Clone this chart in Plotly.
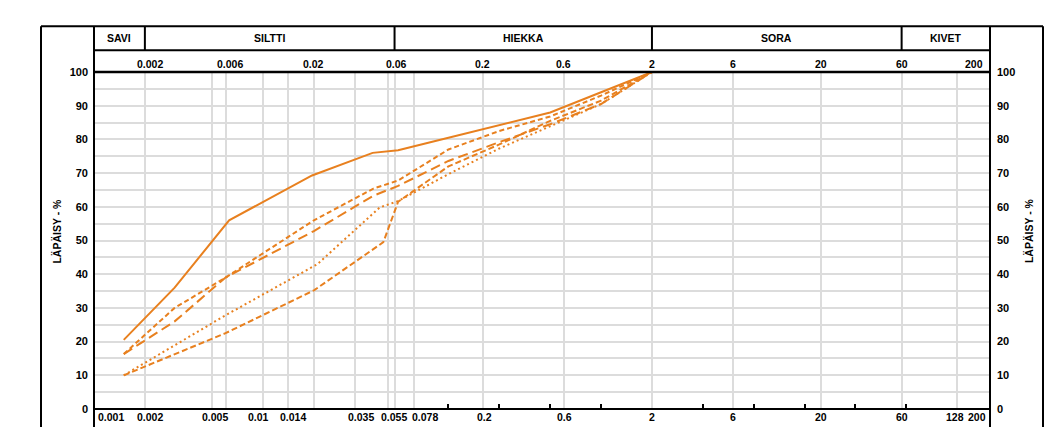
import math
import plotly.graph_objects as go

# ---------------- data ----------------
d_solid = [0.0015, 0.003, 0.0063, 0.0195, 0.0445, 0.063, 0.125, 0.25, 0.5, 1, 2]
p_solid = [20.5, 36, 56, 69.3, 76, 76.8, 80.5, 84.3, 88, 94, 100]

d_dash_a = [0.0015, 0.003, 0.006, 0.02, 0.045, 0.063, 0.125, 0.25, 0.5, 1, 2]
p_dash_a = [16.3, 30, 39, 56, 65.4, 67.8, 77, 82.5, 86.8, 93, 100]

d_longdash = [0.0015, 0.003, 0.006, 0.02, 0.045, 0.063, 0.125, 0.25, 0.5, 1, 2]
p_longdash = [16.3, 26, 39, 52.8, 63.3, 66.2, 73.6, 79.2, 84.5, 90.5, 100]

d_dot = [0.0015, 0.003, 0.006, 0.021, 0.049, 0.063, 0.125, 0.25, 0.5, 1, 2]
p_dot = [10, 19, 27.8, 43, 59.8, 61.7, 69.7, 77.3, 84, 90.5, 100]

d_dash_b = [0.0015, 0.003, 0.006, 0.02, 0.0515, 0.063, 0.125, 0.25, 0.5, 1, 2]
p_dash_b = [10, 16.2, 22.5, 35.2, 49.5, 61.5, 72, 78.5, 85.5, 91.5, 100]

grid_x = [0.002, 0.005, 0.006, 0.01, 0.014, 0.02, 0.035, 0.055, 0.06, 0.078,
          0.2, 0.6, 2, 6, 20, 60, 128]
minor_x = [0.125, 0.25, 0.5, 1, 4, 8, 16, 32, 64]
bottom_labels = ["0.001", "0.002", "0.005", "0.01", "0.014", "0.035", "0.055",
                 "0.078", "0.2", "0.6", "2", "6", "20", "60", "128", "200"]
bottom_vals = [0.001, 0.002, 0.005, 0.01, 0.014, 0.035, 0.055, 0.078, 0.2, 0.6,
               2, 6, 20, 60, 128, 200]
top_labels = ["0.002", "0.006", "0.02", "0.06", "0.2", "0.6", "2", "6", "20", "60", "200"]
top_vals = [0.002, 0.006, 0.02, 0.06, 0.2, 0.6, 2, 6, 20, 60, 200]
classes = ["SAVI", "SILTTI", "HIEKKA", "SORA", "KIVET"]
class_bounds = [0.001, 0.002, 0.06, 2, 60, 200]
y_vals = list(range(0, 101, 5))
y_text = [str(v) if v % 10 == 0 else "" for v in y_vals]

# ---------------- layout geometry (pixels) ----------------
W, H = 1053, 427
L, R, T, B = 94, 63, 72, 16
XMIN, XMAX = 0.001, 200
LMIN, LMAX = math.log10(XMIN), math.log10(XMAX)
PW, PH = W - L - R, H - T - B

# horizontal nudges (px) of the tick label texts, as in the reference drawing
bottom_shift = {"0.002": 5, "0.005": 3, "0.01": -5, "0.014": 5, "0.035": 6,
                "0.055": 6, "0.078": 11, "0.2": 2, "0.6": 1, "128": -2}
top_shift = {"0.002": 5, "0.006": 4, "0.06": 2}


def xp(v):
    return (math.log10(v) - LMIN) / (LMAX - LMIN)


def dx(px):
    return px / PW


def px_x(px):
    return (px - L) / PW


def px_y(py):
    return (H - B - py) / PH


ORANGE = "#E8801F"
FONT = "Liberation Sans, Arial, sans-serif"

fig = go.Figure()
series = [
    (d_solid, p_solid, "solid"),
    (d_dash_a, p_dash_a, "5px,3px"),
    (d_longdash, p_longdash, "10px,5px"),
    (d_dot, p_dot, "2px,3px"),
    (d_dash_b, p_dash_b, "6px,3px"),
]
for d, p, dash in series:
    fig.add_trace(go.Scatter(x=d, y=p, mode="lines",
                             line=dict(color=ORANGE, width=2, dash=dash),
                             showlegend=False, hoverinfo="skip"))
# invisible trace to activate right axis
fig.add_trace(go.Scatter(x=[0.01], y=[50], yaxis="y2", mode="markers",
                         marker=dict(opacity=0), showlegend=False, hoverinfo="skip"))

shapes = []
blk = dict(color="black", width=2)
y_top = px_y(26)
y_bot = px_y(440)
# outer frame
shapes.append(dict(type="line", xref="paper", yref="paper", x0=px_x(41), x1=px_x(1043),
                   y0=y_top, y1=y_top, line=blk))
for xx in (px_x(41), px_x(1043), 0, 1):
    shapes.append(dict(type="line", xref="paper", yref="paper", x0=xx, x1=xx,
                       y0=y_top, y1=y_bot, line=blk))
# header bottom line
shapes.append(dict(type="line", xref="paper", yref="paper", x0=0, x1=1,
                   y0=px_y(50), y1=px_y(50), line=blk))
# header dividers
for b in class_bounds[1:-1]:
    shapes.append(dict(type="line", xref="paper", yref="paper", x0=xp(b), x1=xp(b),
                       y0=y_top, y1=px_y(50), line=blk))
# top and bottom axis lines
shapes.append(dict(type="line", xref="paper", yref="paper", x0=0, x1=1, y0=1, y1=1,
                   line=dict(color="black", width=2.5)))
shapes.append(dict(type="line", xref="paper", yref="paper", x0=0, x1=1, y0=0, y1=0,
                   line=blk))

ann = []
bold = dict(family=FONT, size=11, color="black", weight="bold")
small = dict(family=FONT, size=10.5, color="black", weight="bold")
for i, c in enumerate(classes):
    cx = (xp(class_bounds[i]) + xp(class_bounds[i + 1])) / 2
    ann.append(dict(x=cx, y=px_y(38), xref="paper", yref="paper", text=c,
                    showarrow=False, font=small, xanchor="center", yanchor="middle"))
for v, t in zip(top_vals, top_labels):
    if v == XMAX:
        anchor, x = "right", xp(v) - dx(5)
    else:
        anchor, x = "center", xp(v) + dx(top_shift.get(t, 0))
    ann.append(dict(x=x, y=px_y(64), xref="paper", yref="paper", text=t,
                    showarrow=False, font=small, xanchor=anchor, yanchor="middle"))
for v, t in zip(bottom_vals, bottom_labels):
    if v == XMIN:
        anchor, x = "left", xp(v) + dx(2)
    elif v == XMAX:
        anchor, x = "right", xp(v) - dx(2)
    else:
        anchor, x = "center", xp(v) + dx(bottom_shift.get(t, 0))
    ann.append(dict(x=x, y=px_y(419), xref="paper", yref="paper", text=t,
                    showarrow=False, font=small, xanchor=anchor, yanchor="middle"))
for xx in (px_x(57.5), px_x(1029)):
    ann.append(dict(x=xx, y=px_y(232), xref="paper", yref="paper", text="LÄPÄISY - %",
                    textangle=-90, showarrow=False, font=small,
                    xanchor="center", yanchor="middle"))

grid_col = "#dcdcdc"
fig.update_layout(
    width=W, height=H,
    margin=dict(l=L, r=R, t=T, b=B, pad=0),
    paper_bgcolor="white", plot_bgcolor="white",
    font=dict(family=FONT, size=11, color="black"),
    showlegend=False,
    xaxis=dict(type="log", range=[LMIN, LMAX], tickmode="array", tickvals=grid_x,
               showticklabels=False, ticks="", showgrid=True, gridcolor=grid_col,
               gridwidth=2, zeroline=False, showline=False,
               minor=dict(tickmode="array", tickvals=minor_x, ticks="inside",
                          ticklen=5, tickwidth=1.5, tickcolor="black", showgrid=False)),
    yaxis=dict(range=[0, 100], tickmode="array", tickvals=y_vals, ticktext=y_text,
               showgrid=True, gridcolor=grid_col, gridwidth=2, zeroline=False,
               showline=False, ticks="", ticklabelstandoff=5, tickfont=bold),
    yaxis2=dict(range=[0, 100], overlaying="y", side="right", tickmode="array",
                tickvals=y_vals, ticktext=y_text, showgrid=False, zeroline=False,
                showline=False, ticks="", ticklabelstandoff=6, tickfont=bold),
    shapes=shapes,
    annotations=ann,
)

fig.write_html("out.html")
